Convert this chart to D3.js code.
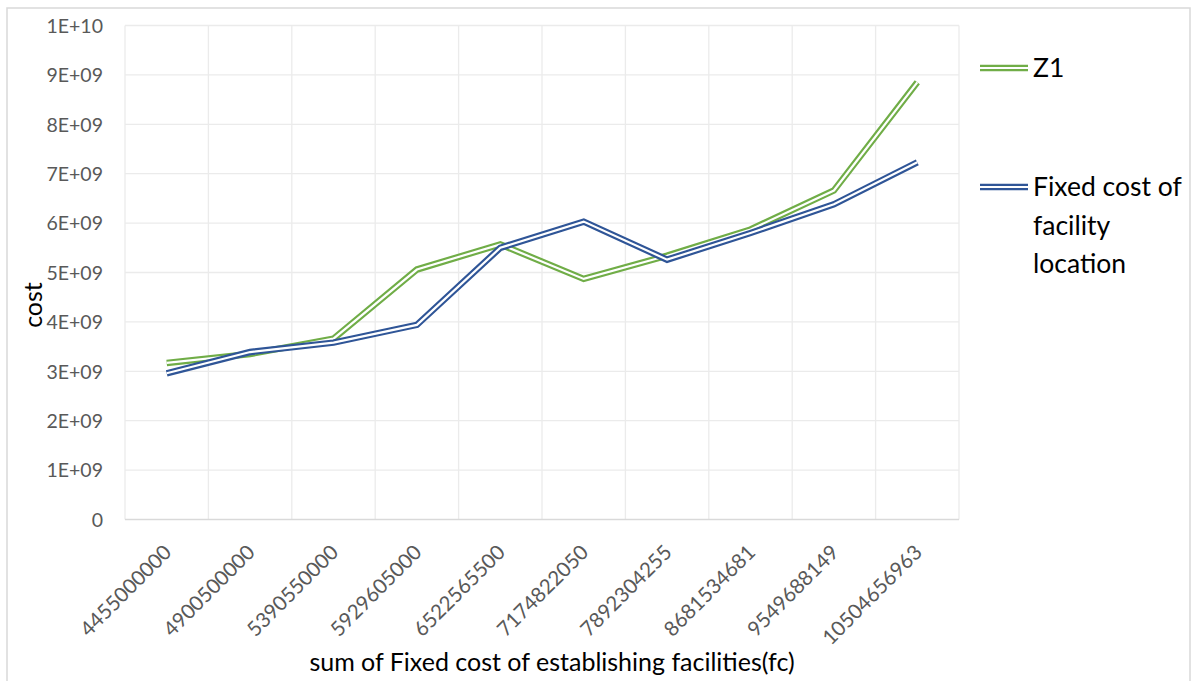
<!DOCTYPE html>
<html>
<head>
<meta charset="utf-8">
<script src="https://cdn.jsdelivr.net/npm/d3@7"></script>
<style>
  html, body { margin: 0; padding: 0; background: #fff; }
  svg { display: block; font-family: Lato, "Open Sans", sans-serif; }
</style>
</head>
<body>
<svg id="chart" width="1192" height="681"></svg>
<script>
// Sum of fixed establishment costs (x categories)
const categories = [
  "4455000000", "4900500000", "5390550000", "5929605000", "6522565500",
  "7174822050", "7892304255", "8681534681", "9549688149", "10504656963"
];
// Objective value Z1
const z1Values = [3.17e9, 3.35e9, 3.66e9, 5.06e9, 5.57e9, 4.87e9, 5.34e9, 5.87e9, 6.66e9, 8.85e9];
// Fixed cost of facility location
const fixedCostValues = [2.96e9, 3.39e9, 3.58e9, 3.94e9, 5.50e9, 6.03e9, 5.26e9, 5.80e9, 6.38e9, 7.23e9];
// Y tick labels
const yTicks = [0, 1e9, 2e9, 3e9, 4e9, 5e9, 6e9, 7e9, 8e9, 9e9, 1e10];
const yTickLabels = ["0", "1E+09", "2E+09", "3E+09", "4E+09", "5E+09", "6E+09", "7E+09", "8E+09", "9E+09", "1E+10"];

const series = [
  { name: ["Z1"], values: z1Values, color: "#70AD47" },
  { name: ["Fixed cost of", "facility", "location"], values: fixedCostValues, color: "#2F5597" }
];

const svg = d3.select("#chart");
const plot = { left: 125, right: 959, top: 25.5, bottom: 519.5 };

// outer chart frame
svg.append("rect")
  .attr("x", 7).attr("y", 8)
  .attr("width", 1183).attr("height", 690)
  .attr("fill", "#fff")
  .attr("stroke", "#D9D9D9").attr("stroke-width", 1.5);

const x = d3.scaleBand().domain(categories).range([plot.left, plot.right]).padding(0);
const y = d3.scaleLinear().domain([0, 1e10]).range([plot.bottom, plot.top]);

const grid = svg.append("g");
// horizontal gridlines
grid.selectAll("line.h").data(yTicks.filter(d => d > 0)).join("line")
  .attr("x1", plot.left).attr("x2", plot.right)
  .attr("y1", d => y(d)).attr("y2", d => y(d))
  .attr("stroke", "#EBEBEB").attr("stroke-width", 1.3);
// vertical gridlines between categories
const vEdges = categories.map(c => x(c)).concat([plot.right]);
grid.selectAll("line.v").data(vEdges).join("line")
  .attr("x1", d => d).attr("x2", d => d)
  .attr("y1", plot.top).attr("y2", plot.bottom)
  .attr("stroke", "#EBEBEB").attr("stroke-width", 1.3);
// category axis line
svg.append("line")
  .attr("x1", plot.left).attr("x2", plot.right)
  .attr("y1", plot.bottom).attr("y2", plot.bottom)
  .attr("stroke", "#D9D9D9").attr("stroke-width", 1.5);

// Y axis labels
const yAxis = d3.axisLeft(y).tickValues(yTicks)
  .tickFormat((d, i) => yTickLabels[i]).tickSize(0).tickPadding(0);
const yg = svg.append("g").attr("transform", `translate(${plot.left - 22},0)`).call(yAxis);
yg.select(".domain").remove();
yg.selectAll("text")
  .attr("fill", "#595959").attr("font-size", 19.5).attr("font-family", "Lato, sans-serif")
  .attr("dy", "0.35em");

// X axis labels, rotated
const xAxis = d3.axisBottom(x).tickSize(0).tickPadding(0);
const xg = svg.append("g").attr("transform", `translate(0,${plot.bottom})`).call(xAxis);
xg.select(".domain").remove();
xg.selectAll(".tick text")
  .attr("fill", "#595959").attr("font-size", 20.5).attr("font-family", "Lato, sans-serif")
  .attr("text-anchor", "end")
  .attr("x", 0).attr("y", 0).attr("dy", "0.35em")
  .attr("transform", "translate(1,29) rotate(-45)");

// Axis titles
svg.append("text")
  .attr("x", (plot.left + plot.right) / 2 + 10).attr("y", 671)
  .attr("text-anchor", "middle").attr("font-size", 25).attr("fill", "#000")
  .text("sum of Fixed cost of establishing facilities(fc)");
svg.append("text")
  .attr("transform", "translate(42,305) rotate(-90)")
  .attr("text-anchor", "middle").attr("font-size", 25).attr("fill", "#000")
  .text("cost");

// Double-stroke lines: wide coloured stroke with a thin white core
const line = d3.line()
  .x((d, i) => x(categories[i]) + x.bandwidth() / 2)
  .y(d => y(d));

series.forEach(s => {
  const g = svg.append("g");
  g.append("path").datum(s.values).attr("d", line)
    .attr("fill", "none").attr("stroke", s.color).attr("stroke-width", 6.5)
    .attr("stroke-linejoin", "miter");
  g.append("path").datum(s.values).attr("d", line)
    .attr("fill", "none").attr("stroke", "#fff").attr("stroke-width", 2.2)
    .attr("stroke-linejoin", "miter");
});

// Legend
const legendY = [68, 187];
series.forEach((s, i) => {
  const g = svg.append("g").attr("transform", `translate(980,${legendY[i]})`);
  g.append("line").attr("x1", 0).attr("x2", 48).attr("y1", 0).attr("y2", 0)
    .attr("stroke", s.color).attr("stroke-width", 6.5);
  g.append("line").attr("x1", 0).attr("x2", 48).attr("y1", 0).attr("y2", 0)
    .attr("stroke", "#fff").attr("stroke-width", 2.2);
  const t = g.append("text").attr("x", 53).attr("y", 9)
    .attr("font-size", 26.5).attr("fill", "#000");
  s.name.forEach((ln, j) => {
    t.append("tspan").attr("x", 53).attr("dy", j === 0 ? 0 : 38.5).text(ln);
  });
});
</script>
</body>
</html>
